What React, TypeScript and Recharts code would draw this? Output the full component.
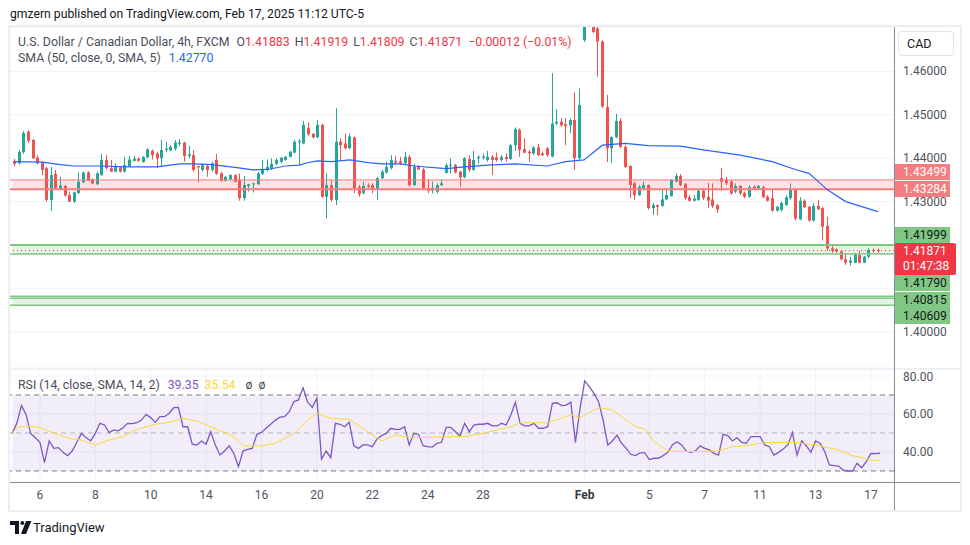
import React from 'react';
import { ComposedChart, Bar, Line, XAxis, YAxis, CartesianGrid, ReferenceArea, ReferenceLine } from 'recharts';

// USDCAD 4h bars, Jan 3 01:00 -> Feb 17 09:00 (UTC-5)
const opens = [
  1.4394, 1.4388, 1.4414, 1.4461, 1.4442, 1.4401, 1.4390, 1.4377, 1.4304, 1.4364,
  1.4328, 1.4336, 1.4315, 1.4300, 1.4320, 1.4344, 1.4367, 1.4351, 1.4340, 1.4361,
  1.4396, 1.4377, 1.4369, 1.4379, 1.4369, 1.4382, 1.4394, 1.4399, 1.4391, 1.4402,
  1.4417, 1.4411, 1.4400, 1.4419, 1.4418, 1.4422, 1.4433, 1.4436, 1.4405, 1.4407,
  1.4382, 1.4373, 1.4382, 1.4373, 1.4396, 1.4365, 1.4348, 1.4351, 1.4361, 1.4350,
  1.4308, 1.4336, 1.4340, 1.4340, 1.4364, 1.4373, 1.4377, 1.4387, 1.4392, 1.4396,
  1.4403, 1.4413, 1.4438, 1.4434, 1.4470, 1.4456, 1.4448, 1.4477, 1.4311, 1.4338,
  1.4304, 1.4438, 1.4434, 1.4423, 1.4448, 1.4334, 1.4319, 1.4337, 1.4338, 1.4327,
  1.4354, 1.4367, 1.4377, 1.4394, 1.4393, 1.4388, 1.4403, 1.4338, 1.4382, 1.4374,
  1.4331, 1.4325, 1.4323, 1.4338, 1.4366, 1.4383, 1.4384, 1.4369, 1.4356, 1.4398,
  1.4373, 1.4400, 1.4401, 1.4396, 1.4403, 1.4402, 1.4396, 1.4403, 1.4398, 1.4430,
  1.4465, 1.4421, 1.4415, 1.4411, 1.4425, 1.4411, 1.4423, 1.4404, 1.4480, 1.4484,
  1.4478, 1.4476, 1.4488, 1.4400, 1.4672, 1.4760, 1.4745, 1.4699, 1.4669, 1.4518,
  1.4423, 1.4448, 1.4486, 1.4426, 1.4382, 1.4342, 1.4315, 1.4331, 1.4338, 1.4285,
  1.4292, 1.4290, 1.4305, 1.4313, 1.4346, 1.4359, 1.4340, 1.4310, 1.4302, 1.4304,
  1.4325, 1.4311, 1.4305, 1.4292, 1.4354, 1.4350, 1.4346, 1.4323, 1.4336, 1.4320,
  1.4311, 1.4334, 1.4331, 1.4333, 1.4311, 1.4308, 1.4279, 1.4281, 1.4292, 1.4308,
  1.4328, 1.4259, 1.4302, 1.4288, 1.4256, 1.4290, 1.4285, 1.4244, 1.4192, 1.4190,
  1.4185, 1.4167, 1.4159, 1.4159, 1.4177, 1.4159, 1.4173, 1.4189, 1.41883,
];
const highs = [
  1.4398, 1.4419, 1.4463, 1.4465, 1.4444, 1.4407, 1.4392, 1.4380, 1.4380, 1.4373,
  1.4357, 1.4338, 1.4323, 1.4323, 1.4367, 1.4369, 1.4370, 1.4354, 1.4369, 1.4410,
  1.4407, 1.4396, 1.4388, 1.4381, 1.4403, 1.4405, 1.4405, 1.4402, 1.4405, 1.4423,
  1.4420, 1.4415, 1.4442, 1.4438, 1.4430, 1.4442, 1.4444, 1.4438, 1.4428, 1.4419,
  1.4382, 1.4387, 1.4384, 1.4392, 1.4410, 1.4369, 1.4359, 1.4363, 1.4363, 1.4365,
  1.4359, 1.4341, 1.4343, 1.4368, 1.4396, 1.4397, 1.4400, 1.4400, 1.4403, 1.4405,
  1.4417, 1.4442, 1.4444, 1.4486, 1.4483, 1.4458, 1.4488, 1.4479, 1.4365, 1.4350,
  1.4515, 1.4446, 1.4457, 1.4457, 1.4450, 1.4338, 1.4346, 1.4342, 1.4342, 1.4357,
  1.4373, 1.4392, 1.4407, 1.4405, 1.4403, 1.4415, 1.4407, 1.4387, 1.4384, 1.4377,
  1.4351, 1.4346, 1.4342, 1.4351, 1.4388, 1.4400, 1.4387, 1.4371, 1.4402, 1.4407,
  1.4417, 1.4407, 1.4411, 1.4417, 1.4407, 1.4413, 1.4407, 1.4411, 1.4433, 1.4471,
  1.4469, 1.4446, 1.4419, 1.4428, 1.4433, 1.4415, 1.4426, 1.4596, 1.4513, 1.4492,
  1.4492, 1.4492, 1.4551, 1.4561, 1.4793, 1.4790, 1.4755, 1.4705, 1.4672, 1.4546,
  1.4450, 1.4502, 1.4492, 1.4430, 1.4384, 1.4346, 1.4338, 1.4346, 1.4340, 1.4297,
  1.4293, 1.4328, 1.4327, 1.4351, 1.4365, 1.4364, 1.4343, 1.4315, 1.4315, 1.4327,
  1.4330, 1.4343, 1.4342, 1.4294, 1.4377, 1.4357, 1.4350, 1.4342, 1.4338, 1.4323,
  1.4338, 1.4338, 1.4338, 1.4336, 1.4315, 1.4327, 1.4290, 1.4300, 1.4315, 1.4342,
  1.4330, 1.4310, 1.4305, 1.4290, 1.4297, 1.4304, 1.4288, 1.4265, 1.4200, 1.4192,
  1.4188, 1.4181, 1.4173, 1.4182, 1.4187, 1.4175, 1.4192, 1.4192, 1.41919,
];
const lows = [
  1.4382, 1.4386, 1.4410, 1.4435, 1.4398, 1.4386, 1.4361, 1.4300, 1.4279, 1.4327,
  1.4327, 1.4311, 1.4299, 1.4297, 1.4317, 1.4343, 1.4347, 1.4340, 1.4338, 1.4360,
  1.4374, 1.4368, 1.4368, 1.4367, 1.4367, 1.4380, 1.4392, 1.4392, 1.4390, 1.4400,
  1.4397, 1.4377, 1.4380, 1.4414, 1.4416, 1.4418, 1.4428, 1.4392, 1.4400, 1.4369,
  1.4344, 1.4369, 1.4357, 1.4369, 1.4361, 1.4346, 1.4346, 1.4349, 1.4344, 1.4302,
  1.4302, 1.4323, 1.4321, 1.4339, 1.4361, 1.4369, 1.4373, 1.4384, 1.4388, 1.4394,
  1.4402, 1.4411, 1.4384, 1.4432, 1.4452, 1.4446, 1.4446, 1.4309, 1.4261, 1.4300,
  1.4292, 1.4396, 1.4419, 1.4421, 1.4319, 1.4311, 1.4317, 1.4331, 1.4319, 1.4304,
  1.4352, 1.4364, 1.4374, 1.4384, 1.4384, 1.4386, 1.4334, 1.4336, 1.4373, 1.4327,
  1.4319, 1.4319, 1.4319, 1.4336, 1.4365, 1.4365, 1.4365, 1.4334, 1.4354, 1.4369,
  1.4371, 1.4388, 1.4396, 1.4392, 1.4361, 1.4392, 1.4392, 1.4392, 1.4396, 1.4417,
  1.4403, 1.4411, 1.4392, 1.4407, 1.4405, 1.4405, 1.4403, 1.4402, 1.4476, 1.4472,
  1.4430, 1.4457, 1.4373, 1.4396, 1.4668, 1.4712, 1.4688, 1.4588, 1.4516, 1.4391,
  1.4389, 1.4446, 1.4424, 1.4377, 1.4308, 1.4304, 1.4313, 1.4328, 1.4281, 1.4269,
  1.4269, 1.4288, 1.4303, 1.4311, 1.4344, 1.4336, 1.4304, 1.4300, 1.4300, 1.4302,
  1.4304, 1.4285, 1.4285, 1.4274, 1.4325, 1.4338, 1.4315, 1.4319, 1.4315, 1.4308,
  1.4309, 1.4329, 1.4329, 1.4308, 1.4300, 1.4277, 1.4277, 1.4277, 1.4290, 1.4304,
  1.4256, 1.4257, 1.4285, 1.4254, 1.4254, 1.4281, 1.4210, 1.4187, 1.4182, 1.4182,
  1.4164, 1.4154, 1.4152, 1.4158, 1.4158, 1.4158, 1.4169, 1.4182, 1.41809,
];
const closes = [
  1.4387, 1.4414, 1.4458, 1.4440, 1.4400, 1.4388, 1.4373, 1.4304, 1.4361, 1.4331,
  1.4337, 1.4314, 1.4300, 1.4321, 1.4346, 1.4367, 1.4348, 1.4342, 1.4365, 1.4396,
  1.4377, 1.4369, 1.4380, 1.4369, 1.4384, 1.4397, 1.4399, 1.4394, 1.4403, 1.4420,
  1.4407, 1.4400, 1.4419, 1.4422, 1.4426, 1.4436, 1.4436, 1.4405, 1.4409, 1.4373,
  1.4379, 1.4384, 1.4373, 1.4388, 1.4364, 1.4348, 1.4357, 1.4361, 1.4346, 1.4308,
  1.4338, 1.4340, 1.4342, 1.4365, 1.4373, 1.4380, 1.4387, 1.4396, 1.4401, 1.4403,
  1.4415, 1.4438, 1.4440, 1.4477, 1.4455, 1.4448, 1.4477, 1.4311, 1.4338, 1.4304,
  1.4438, 1.4430, 1.4423, 1.4450, 1.4331, 1.4317, 1.4336, 1.4334, 1.4327, 1.4354,
  1.4369, 1.4380, 1.4396, 1.4390, 1.4388, 1.4403, 1.4338, 1.4380, 1.4374, 1.4331,
  1.4325, 1.4331, 1.4338, 1.4342, 1.4384, 1.4385, 1.4367, 1.4356, 1.4400, 1.4373,
  1.4396, 1.4403, 1.4404, 1.4403, 1.4396, 1.4396, 1.4403, 1.4398, 1.4430, 1.4467,
  1.4419, 1.4413, 1.4411, 1.4425, 1.4407, 1.4407, 1.4407, 1.4480, 1.4484, 1.4476,
  1.4474, 1.4488, 1.4400, 1.4523, 1.4760, 1.4745, 1.4691, 1.4669, 1.4519, 1.4423,
  1.4449, 1.4486, 1.4426, 1.4380, 1.4338, 1.4315, 1.4334, 1.4338, 1.4285, 1.4292,
  1.4288, 1.4305, 1.4315, 1.4350, 1.4359, 1.4338, 1.4308, 1.4302, 1.4307, 1.4325,
  1.4308, 1.4302, 1.4290, 1.4282, 1.4346, 1.4342, 1.4319, 1.4336, 1.4319, 1.4311,
  1.4333, 1.4331, 1.4336, 1.4310, 1.4302, 1.4279, 1.4288, 1.4297, 1.4310, 1.4328,
  1.4261, 1.4302, 1.4287, 1.4256, 1.4290, 1.4282, 1.4242, 1.4192, 1.4187, 1.4185,
  1.4167, 1.4159, 1.4164, 1.4179, 1.4159, 1.4173, 1.4188, 1.41883, 1.41871,
];

// SMA(50) read at a subset of bars
const smaIndex = [0, 6, 10, 13, 19, 24, 31, 36, 39, 43, 48, 52, 55, 59, 62, 64, 66, 69, 73, 77, 80, 84, 87, 94, 98, 103, 109, 116, 120, 124, 128, 133, 138, 145, 150, 158, 165, 170, 173, 177, 181, 188];
const smaValues = [1.4392, 1.4391, 1.4385, 1.4382, 1.4382, 1.4380, 1.4380, 1.4387, 1.4387, 1.4385, 1.4379, 1.4373, 1.4374, 1.4382, 1.4384, 1.4390, 1.4394, 1.4392, 1.4396, 1.4390, 1.4387, 1.4387, 1.4382, 1.4376, 1.4380, 1.4384, 1.4387, 1.4382, 1.4392, 1.4396, 1.4430, 1.4434, 1.4429, 1.4428, 1.4419, 1.4407, 1.4392, 1.4374, 1.4365, 1.4327, 1.4300, 1.4277];

const rsiValues = [
  49.8, 55.1, 64.4, 59.8, 49.8, 47.5, 45.1, 34.4, 45.8, 41.9,
  42.3, 39.8, 38.1, 40.5, 45.1, 49.8, 47.5, 45.9, 49.8, 55.1,
  54.2, 50.2, 51.6, 51.1, 52.8, 55.1, 54.9, 55.4, 56.8, 59.8,
  58.1, 55.6, 58.6, 58.6, 60.4, 63.3, 63.5, 53.3, 53.3, 44.1,
  43.7, 45.8, 44.1, 50.7, 43.7, 38.4, 40.5, 43.3, 39.3, 32.3,
  40.5, 41.4, 41.9, 49.3, 50.4, 52.5, 54.6, 56.8, 58.3, 58.6,
  61.2, 66.5, 67.4, 73.8, 66.2, 63.5, 68.3, 36.3, 40.5, 37.0,
  55.1, 54.6, 53.3, 55.6, 43.3, 41.9, 43.7, 43.7, 42.8, 46.8,
  48.6, 49.8, 52.5, 51.9, 51.9, 53.3, 43.7, 49.8, 49.3, 43.3,
  42.8, 42.6, 44.6, 45.1, 53.0, 53.0, 50.7, 48.4, 55.1, 50.7,
  54.2, 54.6, 54.6, 55.1, 53.8, 53.7, 55.1, 54.2, 59.5, 66.2,
  55.1, 53.8, 53.8, 55.1, 52.5, 52.5, 53.3, 65.6, 65.9, 64.4,
  64.7, 66.2, 45.1, 63.0, 77.4, 74.4, 70.9, 66.5, 56.8, 43.7,
  45.8, 48.9, 44.6, 41.9, 38.8, 38.1, 39.5, 39.5, 36.0, 36.7,
  36.7, 38.1, 39.8, 43.7, 45.4, 43.7, 40.5, 39.8, 40.5, 43.2,
  41.9, 41.1, 39.3, 38.4, 49.3, 48.6, 45.8, 47.5, 45.1, 44.6,
  48.1, 48.1, 48.1, 43.7, 42.8, 38.4, 39.8, 41.6, 43.7, 50.2,
  38.4, 45.8, 43.3, 39.8, 45.8, 44.6, 40.2, 33.2, 32.8, 32.6,
  30.5, 30.0, 30.0, 34.1, 31.7, 34.9, 39.3, 39.1, 39.35,
];

// RSI-based MA(14) read at a subset of bars
const rsiMaIndex = [0, 1, 3, 6, 9, 13, 15, 18, 21, 24, 27, 31, 34, 37, 40, 43, 48, 50, 54, 57, 61, 64, 66, 69, 73, 77, 80, 83, 87, 92, 98, 102, 108, 110, 116, 121, 123, 127, 130, 135, 137, 139, 142, 147, 153, 156, 159, 163, 169, 174, 179, 182, 186, 188];
const rsiMaValues = [49.8, 52.8, 53.8, 53.0, 49.8, 46.8, 46.3, 43.7, 46.3, 48.1, 51.9, 54.6, 55.6, 57.7, 56.3, 53.3, 48.1, 43.2, 43.2, 44.6, 49.8, 56.8, 60.4, 57.7, 57.2, 50.7, 45.8, 48.9, 47.5, 47.9, 48.1, 49.8, 53.3, 55.4, 55.4, 59.5, 58.1, 63.3, 62.1, 53.3, 52.1, 45.4, 40.5, 40.2, 40.5, 42.8, 43.3, 44.9, 45.1, 43.7, 41.1, 38.1, 35.8, 35.54];

const dayTickIndex = [6, 18, 30, 42, 54, 66, 78, 90, 102, 124, 138, 150, 162, 174, 186];
const dayTickLabels = ['6', '8', '10', '14', '16', '20', '22', '24', '28', 'Feb', '5', '7', '11', '13', '17'];
const priceTicks = [1.40, 1.41, 1.42, 1.43, 1.44, 1.45, 1.46];
const coveredPriceTicks = [1.41, 1.42];
const rsiTicks = [40, 60, 80];

const redZone = [1.43284, 1.43499];
const greenZoneA = [1.4179, 1.41999];
const greenZoneB = [1.40609, 1.4077, 1.40815];
const zoneTags = [1.43499, 1.43284, 1.41999, 1.4179, 1.40815, 1.40609];
const countdown = '01:47:38';
const EMPTY_SLOTS = 3;

const PRICE_DOMAIN = [1.39164, 1.47024];
const RSI_DOMAIN = [24.21, 83.68];
const UP = '#26a69a';
const DOWN = '#ef5350';
const GRID = '#f0f3fa';
const TEXT = '#131722';
const AXIS_TEXT = '#50535e';
const AXIS_LINE = '#8b8e97';
const FONT = 'Roboto, "Noto Sans", sans-serif';

const n = closes.length;
const rows: any[] = [];
for (let i = 0; i < n + EMPTY_SLOTS; i++) {
  const has = i < n;
  rows.push({
    idx: i,
    o: has ? opens[i] : null,
    h: has ? highs[i] : null,
    l: has ? lows[i] : null,
    c: has ? closes[i] : null,
    range: has ? [lows[i], highs[i]] : null,
    rsi: has ? rsiValues[i] : null,
    sma: null,
    rsiMa: null,
  });
}
smaIndex.forEach((k, j) => { rows[k].sma = smaValues[j]; });
rsiMaIndex.forEach((k, j) => { rows[k].rsiMa = rsiMaValues[j]; });

const last = n - 1;
const change = closes[last] - closes[last - 1];
const changePct = (change / closes[last - 1]) * 100;
const fmtSigned = (v: number, d: number) => (v < 0 ? '\u2212' : '+') + Math.abs(v).toFixed(d);

function Candle(props: any) {
  const { x, y, width, height, payload } = props;
  if (!payload || payload.o == null || !isFinite(y)) return null;
  const { o, h, l, c } = payload;
  const top = Math.min(y, y + height);
  const span = Math.abs(height);
  const k = h > l ? span / (h - l) : 0;
  const color = c >= o ? UP : DOWN;
  const cx = Math.floor(x + width / 2) + 0.5;
  const bodyTop = top + (h - Math.max(o, c)) * k;
  const bodyH = Math.max(1, Math.abs(o - c) * k);
  return (
    <g>
      <line x1={cx} x2={cx} y1={top} y2={top + span} stroke={color} strokeWidth={1} />
      <rect x={cx - 1.5} y={bodyTop} width={3} height={bodyH} fill={color} />
    </g>
  );
}

// price labels hidden under the colored price tags are not drawn
function PriceTick(props: any) {
  const { x, y, payload } = props;
  if (coveredPriceTicks.some((v) => Math.abs(v - payload.value) < 1e-9)) return <g />;
  return (
    <text x={x} y={y} dy={4} textAnchor="start" fontSize={12} fill={AXIS_TEXT}>
      {payload.value.toFixed(5)}
    </text>
  );
}

function DayTick(props: any) {
  const { x, y, payload } = props;
  const label = dayTickLabels[dayTickIndex.indexOf(payload.value)];
  const bold = label === 'Feb';
  return (
    <text x={x} y={y} dy={17} textAnchor="middle" fontSize={12} fill={bold ? '#363a45' : AXIS_TEXT} fontWeight={bold ? 700 : 400}>
      {label}
    </text>
  );
}

const abs = (left: number, top: number, extra: any = {}) => ({ position: 'absolute' as const, left, top, ...extra });

export default function App() {
  const tagTops = [164, 180.5, 226.5, 275, 291.5, 308];
  const tagColors = [
    { bg: '#f77c80', fg: '#ffffff' },
    { bg: '#f77c80', fg: '#ffffff' },
    { bg: '#81c784', fg: TEXT },
    { bg: '#81c784', fg: TEXT },
    { bg: '#81c784', fg: TEXT },
    { bg: '#81c784', fg: TEXT },
  ];
  const legendStyle = { fontSize: 12.3, lineHeight: '16px', color: '#4a4e5a', whiteSpace: 'nowrap' };
  return (
    <div style={{ position: 'absolute', left: 0, top: 0, width: 970, height: 545, background: '#fff', fontFamily: FONT, overflow: 'hidden' }}>
      <div style={abs(10, 5, { fontSize: 12.2, color: TEXT, lineHeight: '18px', whiteSpace: 'nowrap' })}>
        gmzern published on TradingView.com, Feb 17, 2025 11:12 UTC-5
      </div>

      {/* frame */}
      <div style={abs(8, 25, { width: 954, height: 487, border: '2px solid #eceef2', boxSizing: 'border-box' })} />

      {/* price pane */}
      <div style={abs(0, 27)}>
        <ComposedChart width={970} height={341} data={rows} margin={{ top: 0, right: 0, bottom: 0, left: 10 }} barCategoryGap="10%">
          <CartesianGrid stroke={GRID} strokeWidth={1} />
          <XAxis dataKey="idx" type="category" ticks={dayTickIndex} interval={0} tick={false} tickLine={false} axisLine={false} height={0} padding={{ left: 2.2, right: 0 }} />
          <YAxis orientation="right" width={76} domain={PRICE_DOMAIN} allowDataOverflow ticks={priceTicks} tick={<PriceTick />} tickLine={false} tickSize={0} tickMargin={9} axisLine={false} />
          <ReferenceArea y1={redZone[0]} y2={redZone[1]} fill="#f23645" fillOpacity={0.14} stroke="none" />
          <ReferenceLine y={redZone[1]} stroke="#f77c80" strokeWidth={1} />
          <ReferenceLine y={redZone[0]} stroke="#f77c80" strokeWidth={2} />
          <ReferenceArea y1={greenZoneA[0]} y2={greenZoneA[1]} fill="#4caf50" fillOpacity={0.14} stroke="none" />
          <ReferenceLine y={greenZoneA[1]} stroke="#81c784" strokeWidth={2} />
          <ReferenceLine y={greenZoneA[0]} stroke="#81c784" strokeWidth={1.5} />
          <ReferenceArea y1={greenZoneB[0]} y2={greenZoneB[2]} fill="#4caf50" fillOpacity={0.14} stroke="none" />
          {greenZoneB.map((v) => (
            <ReferenceLine key={v} y={v} stroke="#81c784" strokeWidth={1.5} />
          ))}
          <ReferenceLine y={closes[last]} stroke="#f23645" strokeWidth={1} strokeDasharray="1 3" />
          <Bar dataKey="range" shape={(p: any) => <Candle {...p} />} isAnimationActive={false} />
          <Line dataKey="sma" type="linear" stroke="#2962ff" strokeWidth={1.2} dot={false} activeDot={false} connectNulls isAnimationActive={false} />
        </ComposedChart>
      </div>

      {/* legend */}
      <div style={abs(18, 34, legendStyle)}>
        U.S. Dollar / Canadian Dollar, 4h, FXCM
        <span style={{ marginLeft: 7 }}>O</span><span style={{ color: '#f23645' }}>{opens[last].toFixed(5)}</span>
        <span style={{ marginLeft: 5 }}>H</span><span style={{ color: '#f23645' }}>{highs[last].toFixed(5)}</span>
        <span style={{ marginLeft: 5 }}>L</span><span style={{ color: '#f23645' }}>{lows[last].toFixed(5)}</span>
        <span style={{ marginLeft: 5 }}>C</span><span style={{ color: '#f23645' }}>{closes[last].toFixed(5)}</span>
        <span style={{ marginLeft: 6, color: '#f23645' }}>{fmtSigned(change, 5)} ({fmtSigned(changePct, 2)}%)</span>
      </div>
      <div style={abs(18, 50, legendStyle)}>
        SMA (50, close, 0, SMA, 5)
        <span style={{ marginLeft: 8, color: '#2962ff' }}>{smaValues[smaValues.length - 1].toFixed(5)}</span>
      </div>

      {/* CAD box */}
      <div style={abs(898, 31, { width: 56, height: 25, border: '1px solid #e0e3eb', borderRadius: 4, boxSizing: 'border-box', fontSize: 12.5, lineHeight: '23px', paddingLeft: 8, color: TEXT })}>CAD</div>

      {/* price tags */}
      {zoneTags.map((p, i) => (
        <div key={p} style={abs(895, tagTops[i], { width: 55, height: 16, background: tagColors[i].bg, color: tagColors[i].fg, fontSize: 12, lineHeight: '16px', paddingLeft: 8, boxSizing: 'border-box', overflow: 'hidden' })}>
          {p.toFixed(5)}
        </div>
      ))}
      <div style={abs(895, 242.5, { width: 61, height: 32, background: '#f23645', color: '#fff', fontSize: 12, lineHeight: '15px', paddingLeft: 8, paddingTop: 1, boxSizing: 'border-box', borderRadius: '0 2px 2px 0', overflow: 'hidden' })}>
        <div>{closes[last].toFixed(5)}</div>
        <div>{countdown}</div>
      </div>

      {/* pane separator */}
      <div style={abs(10, 368, { width: 950, height: 2, background: '#eef0f4' })} />

      {/* RSI pane */}
      <div style={abs(0, 369)}>
        <ComposedChart width={970} height={141} data={rows} margin={{ top: 0, right: 0, bottom: 0, left: 10 }}>
          <CartesianGrid stroke={GRID} strokeWidth={1} />
          <XAxis dataKey="idx" type="category" ticks={dayTickIndex} interval={0} tick={<DayTick />} tickLine={false} tickSize={0} tickMargin={0} axisLine={false} height={28} padding={{ left: 2.2, right: 0 }} />
          <YAxis orientation="right" width={76} domain={RSI_DOMAIN} allowDataOverflow ticks={rsiTicks} tickFormatter={(v: number) => v.toFixed(2)} tick={{ fill: AXIS_TEXT, fontSize: 12 }} tickLine={false} tickSize={0} tickMargin={9} axisLine={false} />
          <ReferenceArea y1={30} y2={70} fill="#7e57c2" fillOpacity={0.1} stroke="none" />
          <ReferenceLine y={70} stroke="#787b86" strokeDasharray="5 4" />
          <ReferenceLine y={50} stroke="#b2b5be" strokeDasharray="5 4" />
          <ReferenceLine y={30} stroke="#787b86" strokeDasharray="5 4" />
          <Line dataKey="rsi" type="linear" stroke="#7e57c2" strokeWidth={1.3} dot={false} activeDot={false} isAnimationActive={false} />
          <Line dataKey="rsiMa" type="linear" stroke="#fdd835" strokeWidth={1} dot={false} activeDot={false} connectNulls isAnimationActive={false} />
        </ComposedChart>
      </div>

      <div style={abs(18, 377, legendStyle)}>
        RSI (14, close, SMA, 14, 2)
        <span style={{ marginLeft: 8, color: '#7e57c2' }}>{rsiValues[last].toFixed(2)}</span>
        <span style={{ marginLeft: 6, color: '#fdd835' }}>{rsiMaValues[rsiMaValues.length - 1].toFixed(2)}</span>
        <span style={{ marginLeft: 10 }}>ø</span>
        <span style={{ marginLeft: 6 }}>ø</span>
      </div>

      {/* axis lines */}
      <div style={abs(893.5, 27, { width: 1, height: 483, background: AXIS_LINE })} />
      <div style={abs(10, 482, { width: 950, height: 1, background: AXIS_LINE })} />

      {/* logo */}
      <svg style={abs(10, 521)} width={22} height={13} viewBox="0 0 22 13">
        <path d="M0 0 H9 V13 H5 V4 H0 Z" fill={TEXT} />
        <circle cx={12.3} cy={2} r={2} fill={TEXT} />
        <path d="M16 0 H21.5 L16 13 H11 Z" fill={TEXT} />
      </svg>
      <div style={abs(33, 518.5, { fontSize: 13, lineHeight: '18px', color: TEXT, whiteSpace: 'nowrap' })}>TradingView</div>
    </div>
  );
}
